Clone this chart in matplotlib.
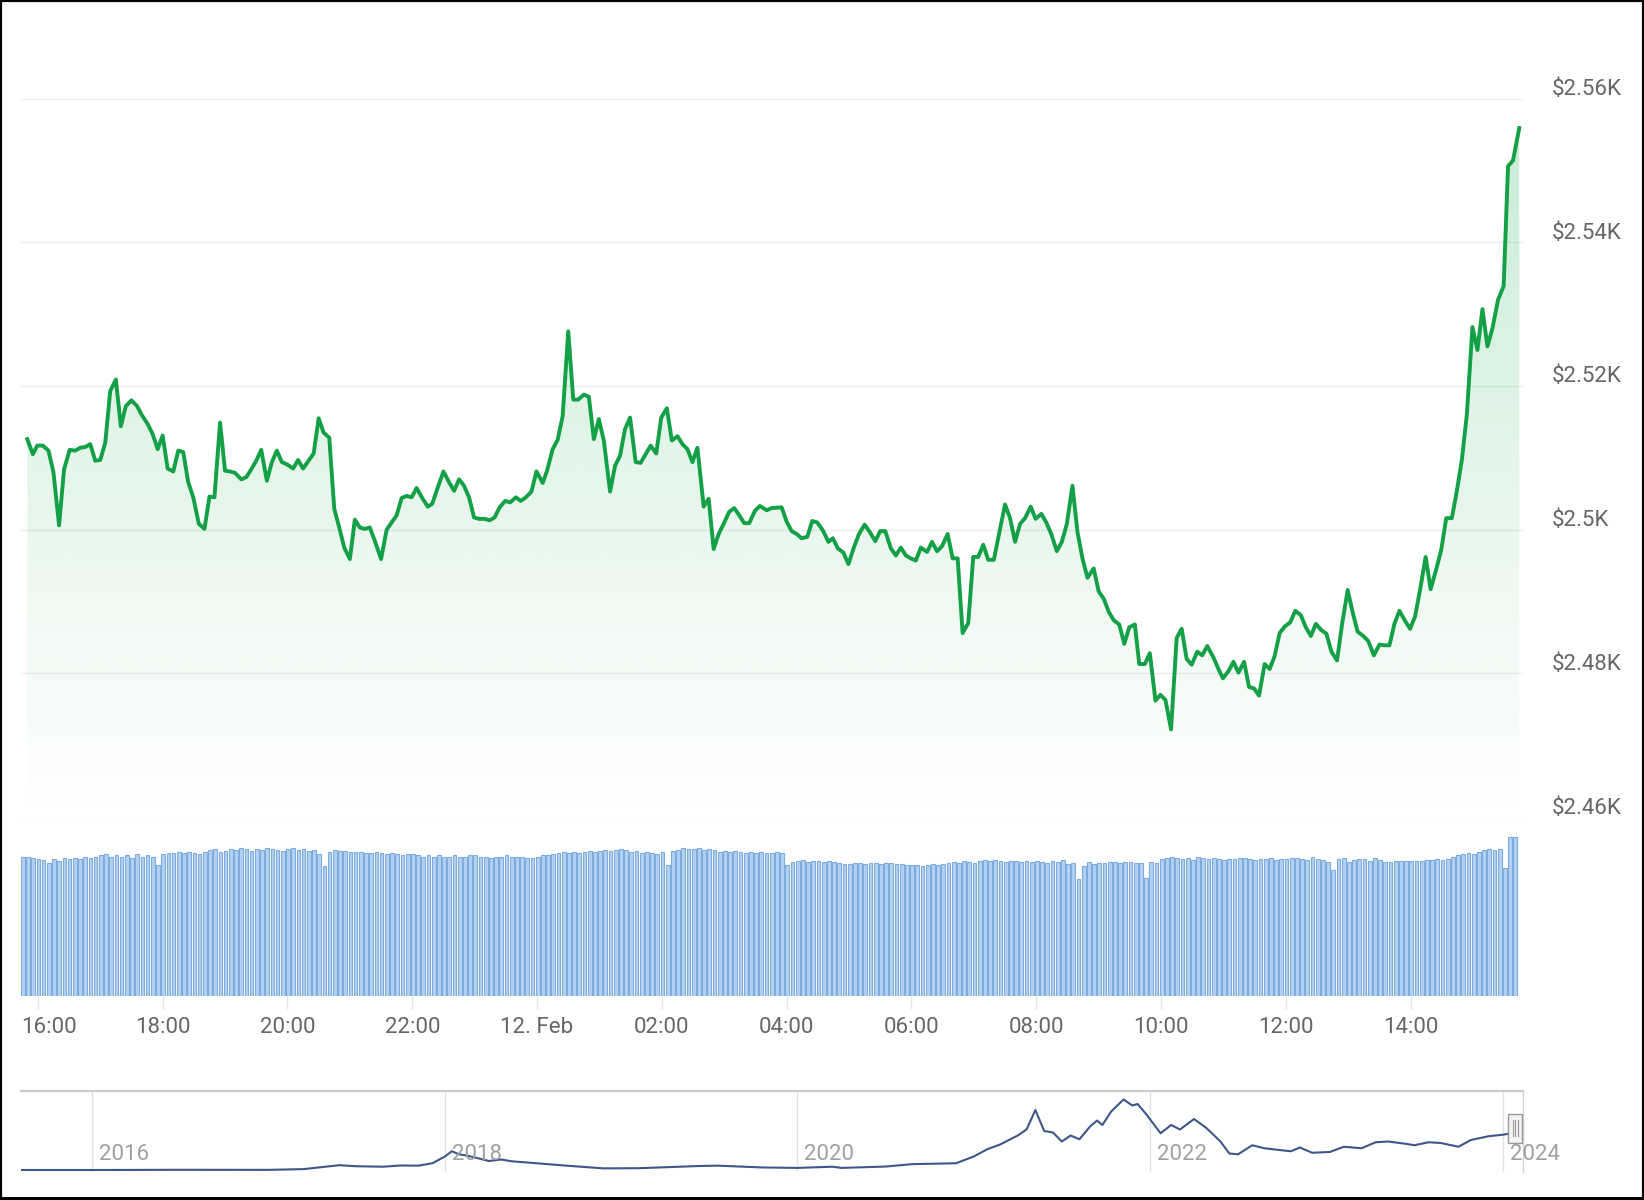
import numpy as np
import matplotlib
matplotlib.use('Agg')
import matplotlib.pyplot as plt
from matplotlib.transforms import ScaledTranslation, blended_transform_factory
from matplotlib.patches import Rectangle

# price, x = hours counted from 11 Feb 00:00
hours = [15.83, 15.92, 15.99, 16.08, 16.17, 16.25, 16.34, 16.42, 16.51, 16.60, 16.68, 16.76,
         16.84, 16.92, 17.00, 17.08, 17.16, 17.25, 17.33, 17.41, 17.50, 17.59, 17.67, 17.76,
         17.84, 17.92, 18.00, 18.08, 18.17, 18.25, 18.33, 18.41, 18.49, 18.58, 18.67, 18.75,
         18.83, 18.92, 19.00, 19.08, 19.16, 19.26, 19.34, 19.42, 19.50, 19.58, 19.67, 19.75,
         19.83, 19.91, 19.99, 20.09, 20.17, 20.25, 20.34, 20.42, 20.50, 20.58, 20.67, 20.75,
         20.83, 20.91, 21.00, 21.08, 21.16, 21.24, 21.32, 21.41, 21.50, 21.59,
         21.75, 21.83, 21.91, 21.99, 22.07, 22.16, 22.25, 22.32, 22.41, 22.50, 22.59, 22.67,
         22.75, 22.83, 22.91, 22.99, 23.07, 23.16, 23.24, 23.32, 23.40, 23.49, 23.57, 23.66,
         23.74, 23.82, 23.91, 23.99, 24.09, 24.16, 24.25, 24.33, 24.41, 24.50, 24.58, 24.66,
         24.75, 24.83, 24.91, 24.99, 25.07, 25.17, 25.25, 25.33, 25.41, 25.49, 25.58, 25.66,
         25.74, 25.82, 25.91, 25.99, 26.08, 26.16, 26.25, 26.33, 26.41, 26.49, 26.57, 26.67,
         26.75, 26.83, 26.91, 26.99, 27.08, 27.16, 27.24, 27.32, 27.40, 27.49, 27.57,
         27.68, 27.76, 27.92, 28.00, 28.08, 28.16, 28.24, 28.33, 28.41, 28.49, 28.58, 28.67,
         28.74, 28.82, 28.91, 28.99, 29.08, 29.16, 29.25, 29.33, 29.42, 29.50, 29.58, 29.67,
         29.75, 29.83, 29.91, 29.99, 30.07, 30.15, 30.25, 30.33, 30.41, 30.49, 30.58, 30.66,
         30.74, 30.82, 30.91, 30.99, 31.07, 31.15, 31.23, 31.32, 31.41, 31.50, 31.58, 31.66,
         31.74, 31.82, 31.91, 31.99, 32.08, 32.16, 32.24, 32.33, 32.41, 32.49, 32.58, 32.66,
         32.74, 32.82, 32.92, 33.00, 33.08, 33.16, 33.24, 33.33, 33.41, 33.49, 33.58,
         33.65, 33.74, 33.82, 33.91, 33.99, 34.07, 34.16, 34.25, 34.33, 34.41, 34.49, 34.58,
         34.66, 34.74, 34.84, 34.92, 34.99, 35.08, 35.16, 35.24, 35.33, 35.41, 35.49, 35.57,
         35.66, 35.74, 35.82, 35.90, 35.98, 36.07, 36.15, 36.24, 36.32, 36.40, 36.48, 36.57,
         36.65, 36.73, 36.82, 36.90, 36.99, 37.07, 37.15, 37.24, 37.32, 37.41, 37.50, 37.58,
         37.66, 37.74, 37.82, 37.91, 37.99, 38.07, 38.15, 38.24, 38.32, 38.41, 38.49, 38.57,
         38.66, 38.74, 38.82, 38.90, 38.99, 39.07, 39.15, 39.23, 39.31, 39.40, 39.49, 39.56,
         39.64, 39.74]
price = [2512.6, 2510.5, 2511.7, 2511.7, 2511.0, 2508.0, 2500.6, 2508.4, 2511.1, 2511.0, 2511.4, 2511.5,
         2511.9, 2509.6, 2509.7, 2512.1, 2519.3, 2520.9, 2514.4, 2517.2, 2518.0, 2517.2, 2515.9, 2514.7,
         2513.3, 2511.2, 2513.1, 2508.5, 2508.1, 2511.0, 2510.8, 2506.6, 2504.5, 2500.8, 2500.1, 2504.6,
         2504.5, 2514.9, 2508.2, 2508.1, 2507.9, 2507.0, 2507.3, 2508.4, 2509.6, 2511.1, 2506.8, 2509.4,
         2511.0, 2509.4, 2509.1, 2508.5, 2509.7, 2508.5, 2509.6, 2510.6, 2515.5, 2513.5, 2512.8, 2502.9,
         2500.3, 2497.5, 2495.9, 2501.4, 2500.3, 2500.1, 2500.3, 2498.2, 2495.9, 2500.0,
         2502.0, 2504.4, 2504.7, 2504.5, 2505.8, 2504.4, 2503.2, 2503.6, 2505.9, 2508.1, 2506.6, 2505.4,
         2507.0, 2506.1, 2504.5, 2501.7, 2501.5, 2501.5, 2501.3, 2501.7, 2503.1, 2504.0, 2503.8, 2504.5,
         2504.0, 2504.5, 2505.3, 2508.1, 2506.5, 2508.2, 2511.2, 2512.5, 2515.8, 2527.6, 2518.1, 2518.1,
         2518.8, 2518.5, 2512.6, 2515.4, 2512.4, 2505.3, 2508.9, 2510.3, 2514.0, 2515.6, 2509.4, 2509.3,
         2510.5, 2511.7, 2510.6, 2515.6, 2516.9, 2512.4, 2513.0, 2511.9, 2511.2, 2509.4, 2511.4, 2503.2,
         2504.3, 2497.3, 2499.4, 2500.8, 2502.5, 2503.0, 2502.0, 2500.9, 2500.9, 2502.6, 2503.3,
         2502.7, 2503.0, 2503.1, 2501.1, 2499.8, 2499.4, 2498.8, 2499.0, 2501.2, 2501.0, 2499.9, 2498.3,
         2498.8, 2497.4, 2496.8, 2495.2, 2497.6, 2499.4, 2500.7, 2499.7, 2498.4, 2499.8, 2499.8, 2497.4,
         2496.4, 2497.5, 2496.4, 2496.0, 2495.7, 2497.5, 2496.9, 2498.3, 2497.0, 2497.7, 2499.4, 2496.0,
         2496.0, 2485.6, 2487.0, 2496.2, 2496.2, 2497.9, 2495.8, 2495.8, 2499.7, 2503.5, 2501.6, 2498.3,
         2500.8, 2501.6, 2503.2, 2501.5, 2502.2, 2501.0, 2499.4, 2497.0, 2498.3, 2500.8, 2506.1, 2499.7,
         2496.0, 2493.3, 2494.6, 2491.4, 2490.4, 2488.6, 2487.4, 2486.8, 2484.1, 2486.4, 2486.8,
         2481.3, 2481.3, 2482.8, 2476.2, 2477.0, 2476.3, 2472.2, 2484.9, 2486.2, 2482.0, 2481.2, 2483.0,
         2482.5, 2483.8, 2482.2, 2480.6, 2479.3, 2480.3, 2481.6, 2480.1, 2481.6, 2478.1, 2477.9, 2476.9,
         2481.3, 2480.6, 2482.4, 2485.6, 2486.5, 2487.1, 2488.7, 2488.1, 2486.4, 2485.2, 2486.9, 2486.0,
         2485.5, 2483.0, 2481.8, 2486.8, 2491.6, 2488.5, 2485.8, 2485.2, 2484.5, 2482.5, 2484.0, 2483.9,
         2483.9, 2486.9, 2488.7, 2487.3, 2486.2, 2487.9, 2491.6, 2496.2, 2491.7, 2494.5, 2497.2, 2501.6,
         2501.6, 2505.4, 2509.7, 2516.0, 2528.2, 2525.0, 2530.7, 2525.5, 2528.0, 2532.0, 2533.9, 2550.6,
         2551.4, 2555.9]

# 5-minute volume bars (relative units), one row per hour
vol_start = 15.76
volume = [133, 133, 132, 131, 130, 127, 131, 129, 132, 131, 132, 131,
          133, 132, 133, 134, 135, 133, 134, 133, 134, 132, 135, 133,
          134, 133, 125, 135, 136, 136, 137, 136, 137, 136, 135, 137,
          139, 140, 137, 138, 140, 139, 141, 140, 138, 140, 139, 141,
          140, 139, 138, 140, 141, 139, 140, 138, 139, 135, 124, 137,
          139, 138, 138, 137, 137, 137, 136, 136, 137, 136, 135, 136,
          135, 134, 135, 135, 134, 133, 134, 133, 134, 133, 133, 134,
          133, 133, 134, 134, 133, 133, 132, 133, 133, 134, 133, 133,
          133, 132, 132, 133, 134, 134, 135, 136, 137, 136, 137, 136,
          137, 138, 137, 138, 139, 138, 139, 140, 139, 137, 138, 136,
          137, 136, 135, 137, 125, 138, 139, 141, 140, 140, 141, 139,
          140, 139, 137, 138, 137, 138, 137, 136, 137, 136, 137, 136,
          136, 137, 136, 125, 128, 129, 130, 128, 129, 129, 128, 129,
          128, 127, 126, 126, 127, 127, 126, 127, 127, 126, 127, 127,
          126, 126, 125, 125, 125, 124, 125, 126, 125, 126, 127, 128,
          127, 129, 128, 127, 129, 130, 129, 130, 129, 128, 129, 129,
          128, 129, 128, 129, 128, 127, 129, 128, 130, 126, 127, 112,
          124, 128, 126, 127, 127, 128, 128, 127, 128, 128, 127, 127,
          113, 128, 127, 131, 132, 133, 132, 131, 132, 130, 133, 132,
          131, 132, 131, 130, 131, 131, 132, 132, 131, 130, 131, 131,
          132, 130, 131, 131, 132, 132, 131, 130, 133, 131, 130, 128,
          120, 131, 132, 128, 130, 131, 131, 129, 132, 130, 128, 128,
          129, 129, 129, 129, 129, 129, 130, 130, 131, 130, 131, 133,
          134, 135, 136, 135, 137, 139, 140, 139, 140, 122, 152, 152]

tick_hours = [16, 18, 20, 22, 24, 26, 28, 30, 32, 34, 36, 38]
tick_labels = ['16:00', '18:00', '20:00', '22:00', '12. Feb', '02:00', '04:00',
               '06:00', '08:00', '10:00', '12:00', '14:00']
price_ticks = [2460, 2480, 2500, 2520, 2540, 2560]
price_labels = ['$2.46K', '$2.48K', '$2.5K', '$2.52K', '$2.54K', '$2.56K']

# navigator: long-term history
nav_years = [2015.60, 2016.00, 2016.25, 2016.45, 2016.70, 2017.00, 2017.20, 2017.40, 2017.50,
             2017.65, 2017.75, 2017.85, 2017.93, 2018.00, 2018.04, 2018.08, 2018.13, 2018.20,
             2018.25, 2018.32, 2018.38, 2018.50, 2018.70, 2018.90, 2019.10, 2019.45, 2019.55,
             2019.80, 2020.00, 2020.20, 2020.25, 2020.50, 2020.65, 2020.90, 2021.00, 2021.08,
             2021.15, 2021.25, 2021.30, 2021.35, 2021.40, 2021.45, 2021.50, 2021.55, 2021.60,
             2021.66, 2021.70, 2021.73, 2021.78, 2021.85, 2021.90, 2021.93, 2021.98, 2022.06,
             2022.12, 2022.17, 2022.25, 2022.32, 2022.40, 2022.45, 2022.50, 2022.58, 2022.65,
             2022.72, 2022.80, 2022.85, 2022.92, 2023.02, 2023.10, 2023.20, 2023.28, 2023.35,
             2023.45, 2023.50, 2023.58, 2023.65, 2023.75, 2023.82, 2023.92, 2024.00, 2024.05,
             2024.08, 2024.11]
nav_price = [1, 1, 6, 14, 12, 9, 60, 320, 250,
             220, 300, 290, 450, 900, 1250, 1050, 950, 750,
             600, 700, 580, 470, 280, 110, 120, 270, 290,
             170, 140, 220, 140, 230, 390, 450, 900, 1400,
             1700, 2300, 2700, 4000, 2600, 2500, 1900, 2300, 2050,
             2900, 3300, 3000, 3900, 4700, 4300, 4400, 3700, 2450,
             3000, 2700, 3400, 2800, 1900, 1100, 1050, 1650, 1450,
             1350, 1250, 1500, 1150, 1200, 1550, 1450, 1850, 1900,
             1750, 1650, 1850, 1800, 1550, 2000, 2250, 2350, 2450,
             2250, 2450]
nav_ticks = [2016, 2018, 2020, 2022, 2024]

plt.rcParams['font.family'] = ['Roboto', 'DejaVu Sans']

W, H = 1644, 1200
fig = plt.figure(figsize=(W / 100, H / 100), dpi=100)

def box(x0, y0, x1, y1):
    # pixel box (top-left origin) -> figure fraction
    return [x0 / W, 1 - y1 / H, (x1 - x0) / W, (y1 - y0) / H]

xlim = (15.73, 39.80)
green = '#13a046'

# --- price pane
ax = fig.add_axes(box(21, 98.6, 1523, 817))
ax.set_xlim(*xlim)
ax.set_ylim(2460, 2560)
for s in ax.spines.values():
    s.set_visible(False)
ax.set_yticks(price_ticks, price_labels)
ax.yaxis.tick_right()
ax.tick_params(axis='y', length=0, pad=20.5, labelsize=16, labelcolor='#666666')
ax.tick_params(axis='x', bottom=False, labelbottom=False)
ax.grid(axis='y', color='#ececec', lw=1.0)
ax.set_axisbelow(True)
up = ScaledTranslation(0, 11.5 / 100, fig.dpi_scale_trans)
for lab in ax.get_yticklabels():
    lab.set_transform(lab.get_transform() + up)

poly = ax.fill_between(hours, price, 2460, facecolor='none', edgecolor='none')
grad = np.zeros((256, 1, 4))
grad[:, 0, :3] = matplotlib.colors.to_rgb('#2fb85c')
grad[:, 0, 3] = np.linspace(0.27, 0.0, 256)
im = ax.imshow(grad, extent=[xlim[0], xlim[1], 2460, 2560], origin='upper',
               aspect='auto', zorder=1, interpolation='bilinear')
im.set_clip_path(poly.get_paths()[0], ax.transData)
ax.plot(hours, price, color=green, lw=2.8, solid_joinstyle='round', zorder=3)
ax.set_xlim(*xlim)
ax.set_ylim(2460, 2560)

# --- volume pane
axv = fig.add_axes(box(21, 830, 1523, 996))
bar_t = vol_start + np.arange(len(volume)) * 5 / 60
axv.bar(bar_t, volume, width=5 / 60 * 0.7, color='#b3d2f2', edgecolor='#7eacdf', linewidth=0.8)
axv.set_xlim(*xlim)
axv.set_ylim(0, 158.3)
for s in axv.spines.values():
    s.set_visible(False)
axv.set_yticks([])
axv.set_xticks(tick_hours, tick_labels)
axv.tick_params(axis='x', length=9, width=1, color='#e6e6e6', pad=6,
                labelsize=16, labelcolor='#666666')
first = axv.get_xticklabels()[0]
first.set_ha('left')
first.set_transform(first.get_transform() + ScaledTranslation(-16.8 / 100, 0, fig.dpi_scale_trans))

# --- navigator
axn = fig.add_axes(box(21, 1091, 1523, 1172))
axn.set_xlim(2015.596, 2024.116)
axn.set_ylim(-133, 5267)
for s in axn.spines.values():
    s.set_visible(False)
axn.set_xticks([])
axn.set_yticks([])
for yr in nav_ticks:
    axn.axvline(yr, color='#e3e3e3', lw=1.0, zorder=0)
axn.plot(nav_years, nav_price, color='#3d5789', lw=1.5, zorder=2)
tr = blended_transform_factory(axn.transData, axn.transAxes)
shift = ScaledTranslation(7 / 100, 0, fig.dpi_scale_trans)
for yr in nav_ticks:
    axn.text(yr, 0.216, str(yr), transform=tr + shift, ha='left', va='center',
             fontsize=16, color='#a0a0a0', zorder=3)
axn.plot([0, 1], [1, 1], transform=axn.transAxes, color='#cccccc', lw=1.6, clip_on=False)
axn.plot([1, 1], [1, 0], transform=axn.transAxes, color='#d4d4d4', lw=1.0, clip_on=False)
# range handle at the right end
hw = 14 / 1502
axn.add_patch(Rectangle((0.995 - hw / 2, 0.36), hw, 0.36, transform=axn.transAxes,
                        facecolor='#f2f2f2', edgecolor='#999999', lw=1.0, zorder=4, clip_on=False))
for dx in (-0.0018, 0.0, 0.0018):
    axn.plot([0.995 + dx, 0.995 + dx], [0.44, 0.64], transform=axn.transAxes,
             color='#999999', lw=0.8, zorder=5, clip_on=False)

# screenshot frame
fig.patches.append(Rectangle((0, 0), 1, 1, transform=fig.transFigure, fill=False,
                             edgecolor='black', linewidth=3.0))
fig.lines.append(plt.Line2D([0, 1], [0, 0], transform=fig.transFigure, color='black', lw=5))

fig.savefig('out.png', dpi=100, facecolor='white')
